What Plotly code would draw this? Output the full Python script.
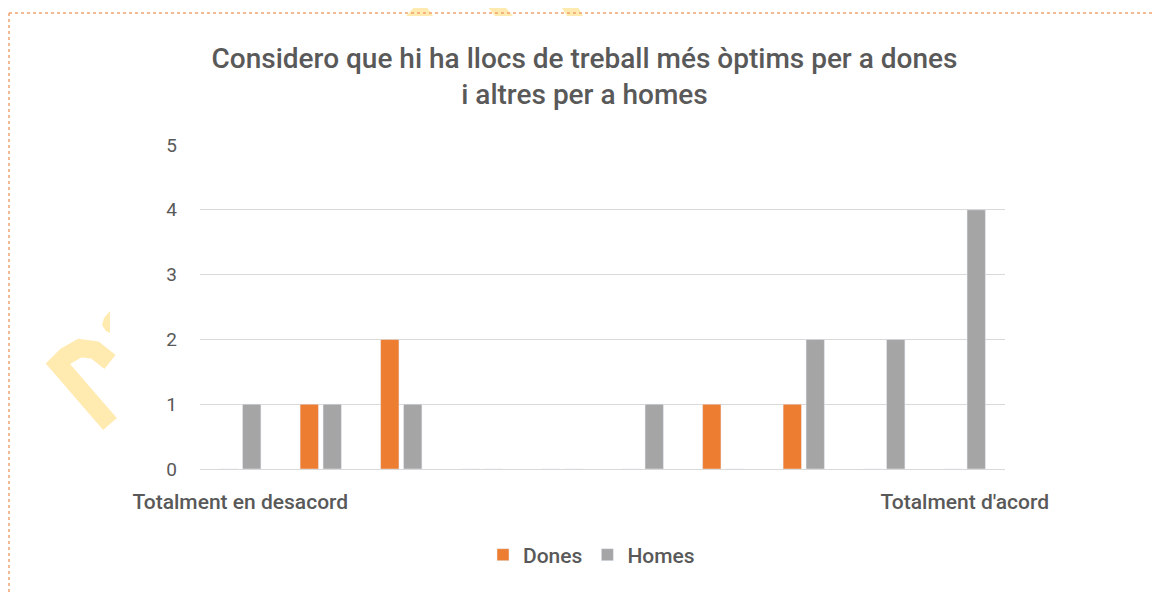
import plotly.graph_objects as go

categories = [1, 2, 3, 4, 5, 6, 7, 8, 9, 10]
tick_labels = ["Totalment en desacord", "", "", "", "", "", "", "", "", "Totalment d'acord"]
dones = [0, 1, 2, 0, 0, 0, 1, 1, 0, 0]
homes = [1, 1, 1, 0, 0, 1, 0, 2, 2, 4]

title = "Considero que hi ha llocs de treball més òptims per a dones<br>i altres per a homes"
FONT = "Roboto"
TXT = "#595959"
WM = "#FFEAB0"

fig = go.Figure()
fig.add_trace(go.Bar(x=categories, y=dones, name="Dones", marker_color="#ED7D31"))
fig.add_trace(go.Bar(x=categories, y=homes, name="Homes", marker_color="#A5A5A5"))

OFF = 8  # page body margin
W, H = 1161 - OFF, 593 - OFF
ml, mr, mt, mb = 200 - OFF, 1161 - 1005, 145 - OFF, 593 - 469
pw, ph = W - ml - mr, H - mt - mb


def px(x):  # screen x -> paper
    return (x - OFF - ml) / pw


def py(y):  # screen y -> paper
    return (H - mb - (y - OFF)) / ph


def poly(pts, close=True):
    s = "M " + " L ".join(f"{px(x):.5f},{py(y):.5f}" for x, y in pts)
    return s + (" Z" if close else "")


# decorative watermark fragments visible around the chart frame
watermark = [
    dict(type="path", xref="paper", yref="paper", layer="above",
         path=poly([(110, 362), (95, 350), (80, 348), (66, 356), (58, 364), (110, 424)], close=False),
         line=dict(color=WM, width=18), fillcolor="rgba(0,0,0,0)"),
    dict(type="path", xref="paper", yref="paper", layer="above",
         path=poly([(110, 311), (104, 318), (102, 325), (106, 331), (110, 333)]),
         line=dict(width=0), fillcolor=WM),
    dict(type="path", xref="paper", yref="paper", layer="above",
         path=poly([(406, 16), (418, 3), (424, 3), (433, 16)]),
         line=dict(width=0), fillcolor=WM),
    dict(type="path", xref="paper", yref="paper", layer="above",
         path=poly([(482, 0), (499, 0), (513, 16), (495, 16)]),
         line=dict(width=0), fillcolor=WM),
    dict(type="path", xref="paper", yref="paper", layer="above",
         path=poly([(557, 0), (574, 0), (583, 16), (567, 16)]),
         line=dict(width=0), fillcolor=WM),
    dict(type="path", xref="paper", yref="paper", layer="above",
         path=poly([(629, 0), (638, 0), (634, 3)]),
         line=dict(width=0), fillcolor=WM),
]

border = [
    dict(type="line", xref="paper", yref="paper", x0=px(9), x1=px(1170), y0=py(13), y1=py(13),
         line=dict(color="#F2A36E", width=1.5, dash="dot")),
    dict(type="line", xref="paper", yref="paper", x0=px(9), x1=px(9), y0=py(13), y1=py(600),
         line=dict(color="#F2A36E", width=1.5, dash="dot")),
]

fig.update_layout(
    width=W, height=H,
    margin=dict(l=ml, r=mr, t=mt, b=mb, pad=0),
    paper_bgcolor="white", plot_bgcolor="white",
    barmode="group", bargap=0.43, bargroupgap=0.2,
    font=dict(family=FONT, color=TXT),
    title=dict(text=title, x=0.5, xanchor="center", y=1 - (68 - OFF) / H, yanchor="middle",
               font=dict(family=FONT, size=28, color=TXT, weight=500)),
    legend=dict(orientation="h", x=0.5 - 11 / pw, xanchor="center", y=py(555), yanchor="middle",
                font=dict(family=FONT, size=21, color=TXT, weight=500), itemwidth=30,
                traceorder="normal"),
    xaxis=dict(tickmode="array", tickvals=categories, ticktext=tick_labels,
               range=[0.5, 10.5], showgrid=False, zeroline=False, showline=False,
               ticks="", tickfont=dict(family=FONT, size=21, color=TXT, weight=500),
               ticklabelstandoff=18),
    yaxis=dict(range=[0, 5], dtick=1, showgrid=True, gridcolor="#D9D9D9", gridwidth=1,
               zeroline=True, zerolinecolor="#D9D9D9", zerolinewidth=1,
               showline=False, ticks="", tickfont=dict(family=FONT, size=19, color=TXT),
               ticklabelstandoff=22),
    shapes=watermark + border,
)

fig.write_html("out.html")
